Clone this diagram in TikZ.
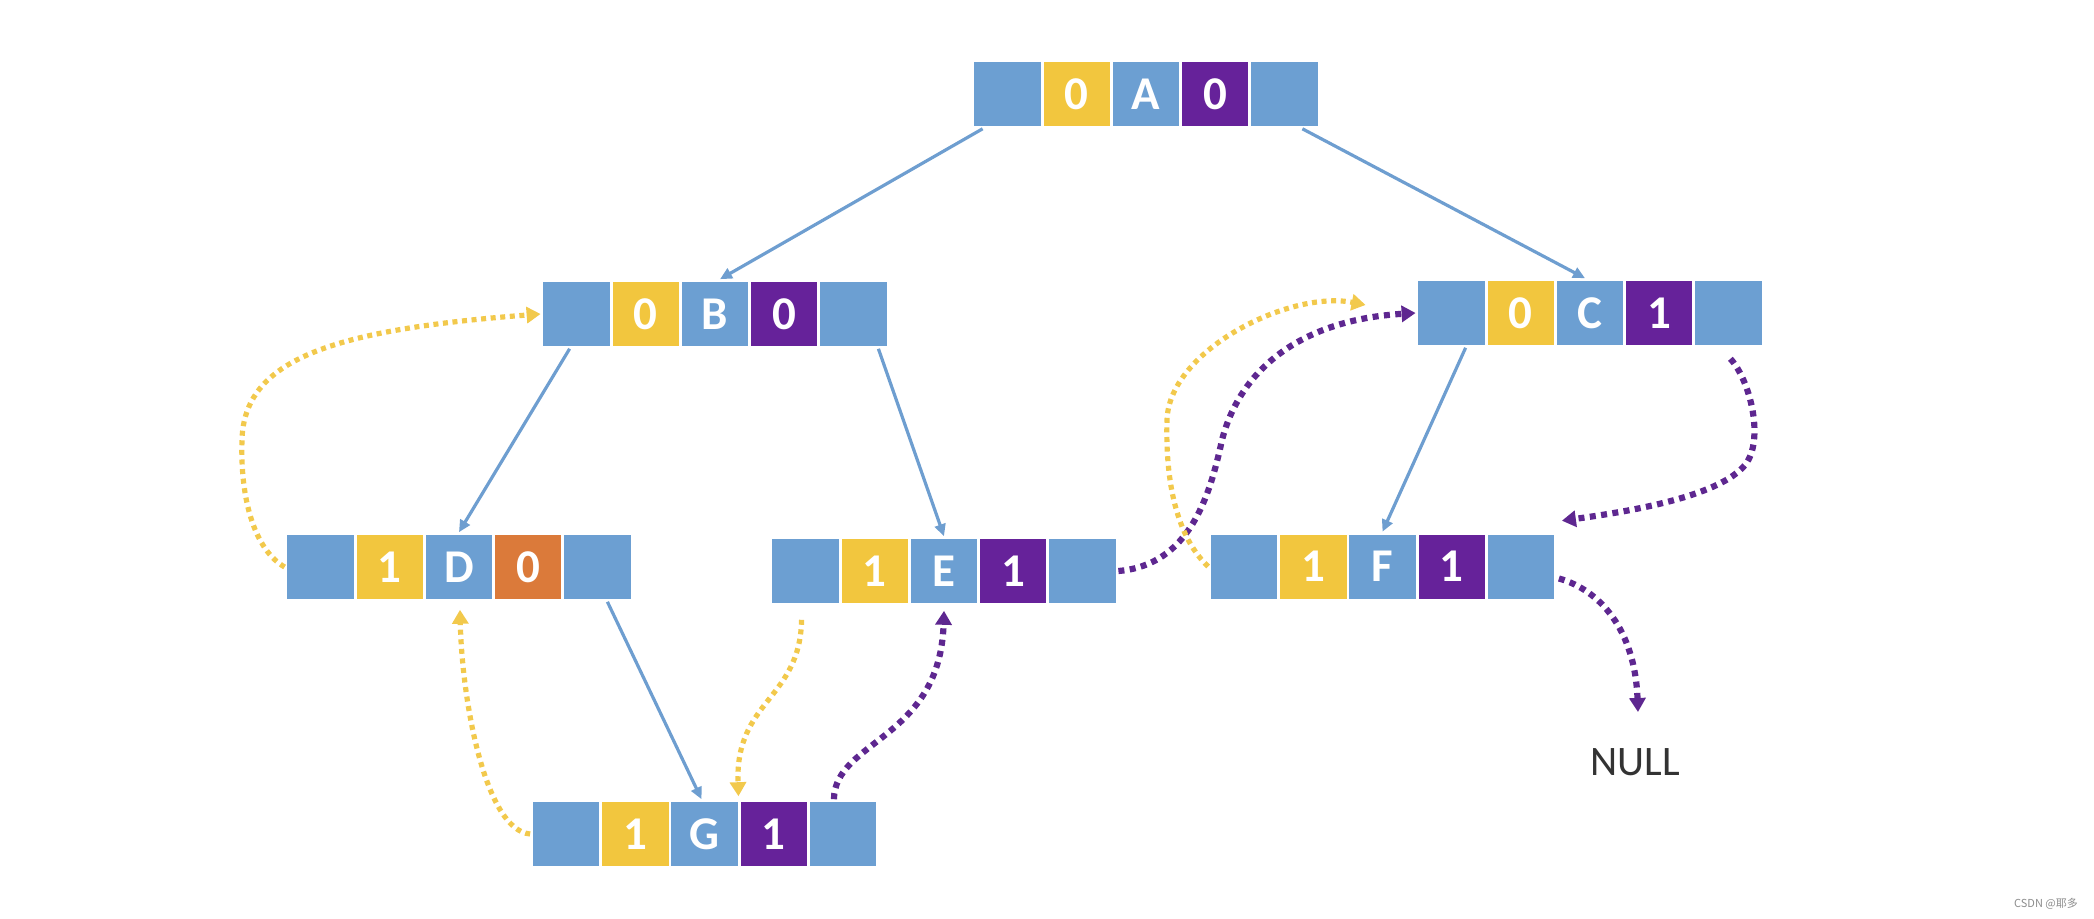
\documentclass[tikz,border=0pt]{standalone}
\usepackage{fontspec}
\setmainfont{Carlito}
\newfontfamily\cjkfont{Noto Sans CJK SC}
\usetikzlibrary{arrows.meta,calc}
\definecolor{cblue}{HTML}{6C9FD2}
\definecolor{cyel}{HTML}{F2C63E}
\definecolor{cpur}{HTML}{66229A}
\definecolor{corg}{HTML}{DB7A3A}
\definecolor{lblue}{HTML}{6E9ED0}
\definecolor{ydot}{HTML}{F2C94C}
\definecolor{pdot}{HTML}{5E2790}
\definecolor{nulltxt}{HTML}{333333}
\tikzset{
 cellbox/.style={rectangle, draw=white, line width=1.4pt, minimum width=34.6pt, minimum height=33.4pt, inner sep=0pt, text=white, font=\bfseries\fontsize{23.5}{28}\selectfont},
 recbox/.style={rectangle, minimum width=173pt, minimum height=32pt, inner sep=0pt},
 tree/.style={draw=lblue, line width=1.6pt, -{Triangle[length=6pt,width=5.5pt]}},
 ythread/.style={draw=ydot, line width=2.6pt, dash pattern=on 2.5pt off 2.3pt, -{Triangle[length=7pt,width=8pt]}},
 pthread/.style={draw=pdot, line width=3.1pt, dash pattern=on 3pt off 2.7pt, -{Triangle[length=7pt,width=8pt]}},
 nulltext/.style={inner sep=0pt, text=nulltxt, font=\fontsize{21}{24}\selectfont},
 wmark/.style={inner sep=0pt, text=black!45, font=\cjkfont\fontsize{5.5}{6}\selectfont},
}
\newcommand\mkrec[7]{%
 \node[recbox] (#1) at (#2,#3) {};
 \node[cellbox,fill=cblue] (#1-1) at ({#2-138.4},#3) {};
 \node[cellbox,fill=cyel] (#1-2) at ({#2-69.2},#3) {#4};
 \node[cellbox,fill=cblue] (#1-3) at (#2,#3) {#5};
 \node[cellbox,fill=#7] (#1-4) at ({#2+69.2},#3) {#6};
 \node[cellbox,fill=cblue] (#1-5) at ({#2+138.4},#3) {};
}
\begin{document}
\begin{tikzpicture}[x=0.5pt,y=-0.5pt]
\useasboundingbox (0,0) rectangle (2094,919);
\mkrec{A}{1146}{94}{0}{A}{0}{cpur}
\mkrec{B}{715}{314}{0}{B}{0}{cpur}
\mkrec{C}{1590}{313}{0}{C}{1}{cpur}
\mkrec{D}{459}{567}{1}{D}{0}{corg}
\mkrec{E}{944}{571}{1}{E}{1}{cpur}
\mkrec{F}{1382.5}{566.5}{1}{F}{1}{cpur}
\mkrec{G}{704.5}{834}{1}{G}{1}{cpur}
\node[nulltext] (NULL) at (1635,762) {NULL};
\node[wmark] (wm) at (2046,904) {CSDN @耶多};
% tree edges
\draw[tree] ($(A-1.south)+(-25,0)$) -- ($(B-3.north)+(5,0)$);
\draw[tree] ($(A-5.south)+(18,0)$) -- ($(C-3.north)+(-5,0)$);
\draw[tree] ($(B-1.south)+(-7,0)$) -- (D-3.north);
\draw[tree] ($(B-5.south)+(25,0)$) -- (E-3.north);
\draw[tree] ($(C-1.south)+(14,0)$) -- (F-3.north);
\draw[tree] ($(D-5.south)+(10,0)$) -- ($(G-3.north)+(-3,0)$);
% threads
\draw[ythread] (D-1.west) .. controls (255,550) and (240,500) .. (242,440) .. controls (244,360) and (330,330) .. (B-1.west);
\draw[pthread] (E-5.east) .. controls (1190,565) and (1210,495) .. (1222,440) .. controls (1240,370) and (1300,320) .. (C-1.west);
\coordinate (cf) at ($(C-1.west)+(-50,-8)$);
\draw[ythread] (F-1.west) .. controls (1180,540) and (1165,490) .. (1167,420) .. controls (1169,350) and (1290,290) .. (cf);
\draw[pthread] ($(C-5.south)+(2,11)$) .. controls (1750,380) and (1765,440) .. (1745,465) .. controls (1720,495) and (1640,510) .. ($(F-5.north east)+(5,-11)$);
\draw[pthread] ($(F-5.east)+(2,12)$) .. controls (1600,590) and (1635,630) .. ($(NULL.north)+(3,-36)$);
\draw[ythread] ($(E-1.south)+(-4,14)$) .. controls (800,700) and (735,700) .. ($(G-3.north east)+(-2,-3)$);
\draw[pthread] ($(G-5.north)+(-9,0)$) .. controls (835,740) and (940,740) .. ($(E-3.south)+(0,5)$);
\draw[ythread] (G-1.west) .. controls (485,830) and (462,700) .. ($(D-3.south)+(1,8)$);
\end{tikzpicture}
\end{document}
